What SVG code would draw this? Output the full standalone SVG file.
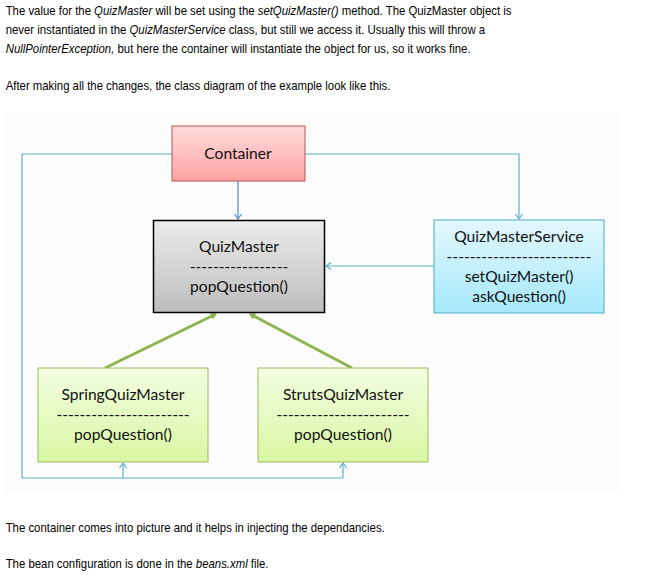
<svg xmlns="http://www.w3.org/2000/svg" width="652" height="578" viewBox="0 0 652 578">
<defs>
<style>
.p{font-family:"Liberation Sans",Arial,sans-serif;font-size:13px;fill:#000}
.d{font-family:Lato,"Open Sans",sans-serif;font-size:15.6px;fill:#111;text-anchor:middle}
.c{fill:none;stroke:#5bb0cc;stroke-width:1.2}
.g{fill:none;stroke:#8fb34f;stroke-width:3}
</style>
<linearGradient id="gr" x1="0" y1="0" x2="0" y2="1"><stop offset="0" stop-color="#ffdcdc"/><stop offset="1" stop-color="#ffa2a2"/></linearGradient>
<linearGradient id="gg" x1="0" y1="0" x2="0" y2="1"><stop offset="0" stop-color="#ececec"/><stop offset="1" stop-color="#bdbdbd"/></linearGradient>
<linearGradient id="gc" x1="0" y1="0" x2="0" y2="1"><stop offset="0" stop-color="#e3f8fd"/><stop offset="1" stop-color="#a6e8fb"/></linearGradient>
<linearGradient id="gl" x1="0" y1="0" x2="0" y2="1"><stop offset="0" stop-color="#f2fde0"/><stop offset="1" stop-color="#d9f7a3"/></linearGradient>
<marker id="a" markerWidth="10" markerHeight="10" refX="8" refY="5" orient="auto" markerUnits="userSpaceOnUse"><path d="M3,1.5 L8,5 L3,8.5" fill="none" stroke="#5bb0cc" stroke-width="1.2"/></marker>
<marker id="ab" markerWidth="10" markerHeight="10" refX="8" refY="5" orient="auto" markerUnits="userSpaceOnUse"><path d="M3,1.5 L8,5 L3,8.5" fill="none" stroke="#4f8ccc" stroke-width="1.2"/></marker>
<marker id="ag" markerWidth="10" markerHeight="10" refX="6" refY="5" orient="auto" markerUnits="userSpaceOnUse"><path d="M1,1.5 L7,5 L1,8.5 Z" fill="#8fb34f"/></marker>
</defs>
<rect width="652" height="578" fill="#fff"/>
<g id="intro" transform="scale(0.875,1)">
<text class="p" x="6.5" y="15">The value for the <tspan font-style="italic">QuizMaster</tspan> will be set using the <tspan font-style="italic">setQuizMaster()</tspan> method. The QuizMaster object is</text>
<text class="p" x="6.5" y="34">never instantiated in the <tspan font-style="italic">QuizMasterService</tspan> class, but still we access it. Usually this will throw a</text>
<text class="p" x="6.5" y="53"><tspan font-style="italic">NullPointerException,</tspan> but here the container will instantiate the object for us, so it works fine.</text>
<text class="p" x="6.5" y="90">After making all the changes, the class diagram of the example look like this.</text>
<text class="p" x="6.5" y="532">The container comes into picture and it helps in injecting the dependancies.</text>
<text class="p" x="6.5" y="568">The bean configuration is done in the <tspan font-style="italic">beans.xml</tspan> file.</text>
</g>
<rect x="5" y="112" width="617" height="382" fill="#fcfcfc"/>
<g id="connectors">
<path class="c" d="M172,154 H22 V478 H343" />
<path class="c" d="M123,478 V463" marker-end="url(#a)"/>
<path class="c" d="M343,478 V463" marker-end="url(#a)"/>
<path class="c" d="M305,154 H519 V219" marker-end="url(#a)"/>
<path class="c" d="M434,266 H326" marker-end="url(#a)"/>
<path d="M238,181 V219" fill="none" stroke="#4f8ccc" stroke-width="1.2" marker-end="url(#ab)"/>
<path class="g" d="M105,368 L216,314" marker-end="url(#ag)"/>
<path class="g" d="M352,368 L250,314" marker-end="url(#ag)"/>
</g>
<g id="container">
<rect x="172" y="126" width="133" height="55" fill="url(#gr)" stroke="#c0504d" stroke-width="1"/>
<text class="d" x="238" y="159">Container</text>
</g>
<g id="quizmaster">
<rect x="153.5" y="220.5" width="171" height="92" fill="url(#gg)" stroke="#000" stroke-width="1.5"/>
<text class="d" x="239" y="252">QuizMaster</text>
<text class="d" x="239" y="272">-----------------</text>
<text class="d" x="239" y="292">popQuestion()</text>
</g>
<g id="quizmasterservice">
<rect x="434" y="220" width="170" height="93" fill="url(#gc)" stroke="#4bacc6" stroke-width="1"/>
<text class="d" x="519" y="242">QuizMasterService</text>
<text class="d" x="519" y="262">-------------------------</text>
<text class="d" x="519" y="282">setQuizMaster()</text>
<text class="d" x="519" y="302">askQuestion()</text>
</g>
<g id="springquizmaster">
<rect x="38" y="368" width="170" height="94" fill="url(#gl)" stroke="#9bbb59" stroke-width="1"/>
<text class="d" x="123" y="400">SpringQuizMaster</text>
<text class="d" x="123" y="420">-----------------------</text>
<text class="d" x="123" y="440">popQuestion()</text>
</g>
<g id="strutsquizmaster">
<rect x="258" y="368" width="170" height="94" fill="url(#gl)" stroke="#9bbb59" stroke-width="1"/>
<text class="d" x="343" y="400">StrutsQuizMaster</text>
<text class="d" x="343" y="420">-----------------------</text>
<text class="d" x="343" y="440">popQuestion()</text>
</g>
</svg>
